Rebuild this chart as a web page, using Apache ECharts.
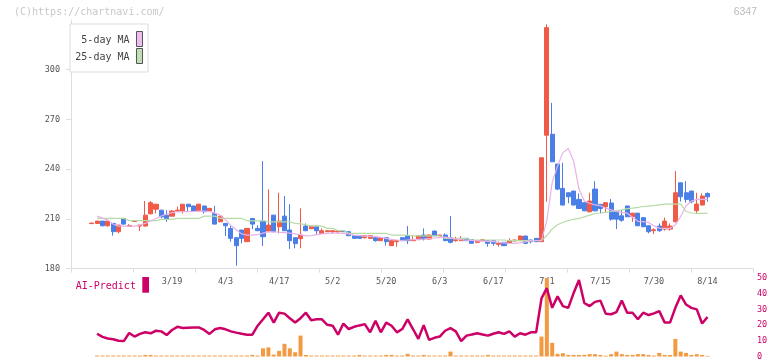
<!DOCTYPE html>
<html><head><meta charset="utf-8">
<script src="https://cdn.jsdelivr.net/npm/echarts@6/dist/echarts.min.js"></script>
<style>html,body{margin:0;padding:0;background:#fff}#c{width:772px;height:361px}</style>
</head><body><div id="c"></div>
<script>
const DATES = ['2/26','2/27','2/28',
'3/3','3/4','3/5','3/6','3/7','3/10','3/11','3/12','3/13','3/14','3/17','3/18','3/19','3/21','3/24','3/25','3/26','3/27','3/28','3/31',
'4/1','4/2','4/3','4/4','4/7','4/8','4/9','4/10','4/11','4/14','4/15','4/16','4/17','4/18','4/21','4/22','4/23','4/24','4/25','4/28','4/30',
'5/1','5/2','5/7','5/8','5/9','5/12','5/13','5/14','5/15','5/16','5/19','5/20','5/21','5/22','5/23','5/26','5/27','5/28','5/29','5/30',
'6/2','6/3','6/4','6/5','6/6','6/9','6/10','6/11','6/12','6/13','6/16','6/17','6/18','6/19','6/20','6/23','6/24','6/25','6/26','6/27','6/30',
'7/1','7/2','7/3','7/4','7/7','7/8','7/9','7/10','7/11','7/14','7/15','7/16','7/17','7/18','7/22','7/23','7/24','7/25','7/28','7/29','7/30','7/31',
'8/1','8/4','8/5','8/6','8/7','8/8','8/12','8/13','8/14'];

const LABEL_DATES = ['3/19','4/3','4/17','5/2','5/20','6/3','6/17','7/1','7/15','7/30','8/14'];
const PRICE_TICKS = [180, 210, 240, 270, 300];
const AI_TICKS = [0, 10, 20, 30, 40, 50];

const OPEN = [
207.2,207.3,208.7,205.9,207.3,202.3,210.3,205.6,208.5,205.7,
205.7,213.1,215.9,215.3,212.3,211.7,214.8,214.8,218.9,217.8,
214.8,217.8,214.8,213.3,208.3,207.3,204.3,198.7,203.3,196.3,
210.3,204.3,208.7,202.7,212.3,205.3,211.7,203.3,198.7,198.1,
205.7,204.1,205.7,201.3,202.3,202.3,202.3,202.7,202.3,199.9,
199.9,198.7,198.3,198.7,196.9,198.7,193.9,196.3,198.7,199.9,
196.9,197.5,200.3,197.9,202.7,199.9,200.3,198.7,196.9,196.9,
198.3,197.5,195.9,196.9,196.9,196.9,194.7,195.9,195.3,196.7,
196.9,199.7,197.3,198.3,196.3,260.5,261.1,243.1,228.4,225.8,
226.8,221.8,219.8,214.3,228.0,218.8,217.3,219.6,214.7,211.9,
217.8,211.3,213.5,210.8,205.9,202.9,205.7,203.9,203.9,208.3,
231.8,225.8,226.8,215.0,218.4,225.4];
const CLOSE = [
207.5,208.7,205.9,208.7,202.3,206.3,206.9,206.0,208.9,206.3,
212.3,219.8,218.9,211.3,209.9,214.8,215.3,218.9,217.4,214.8,
218.9,214.4,216.4,206.9,211.7,205.9,198.3,193.9,198.3,204.3,
206.9,202.9,199.3,206.3,202.3,208.7,202.9,196.9,195.1,200.3,
202.9,205.7,202.9,202.9,202.9,202.9,202.7,202.3,199.9,198.3,
198.3,199.9,199.9,196.9,198.7,196.3,196.9,196.9,196.9,196.9,
197.5,199.9,197.9,200.3,199.9,200.3,196.9,195.9,197.5,197.5,
196.9,195.3,196.9,197.5,195.3,195.3,195.3,193.9,196.9,197.3,
199.7,195.3,196.3,196.3,246.9,325.4,244.5,228.0,218.4,223.4,
218.4,216.3,214.9,220.8,214.9,216.3,219.8,209.9,209.9,209.2,
211.3,213.5,205.9,205.3,202.3,203.5,202.9,208.7,205.7,225.8,
223.4,221.8,220.4,219.0,223.8,223.4];
const LOW = [
207.0,207.2,205.5,205.3,199.9,201.3,206.5,205.3,208.3,202.7,
205.5,212.8,213.3,210.3,208.3,211.5,214.5,213.3,214.4,214.5,
214.6,213.3,214.5,206.7,208.0,199.7,196.3,181.8,195.3,196.2,
203.9,202.7,193.7,202.5,202.0,201.3,202.7,191.9,192.3,192.3,
202.7,203.9,200.7,201.2,202.1,201.3,201.3,202.1,199.7,198.1,
198.1,198.1,198.1,196.3,196.7,193.9,193.7,193.3,196.7,194.9,
196.7,197.3,197.0,197.7,199.7,199.7,196.7,195.3,196.3,196.7,
196.7,195.1,195.3,196.7,193.3,193.9,193.3,193.7,195.1,196.5,
196.7,195.1,195.3,196.1,196.1,220.4,244.3,227.4,218.2,219.4,
218.2,216.1,214.7,214.1,214.7,213.3,214.3,209.0,203.9,208.3,
211.1,208.3,205.7,205.1,201.3,200.9,202.3,202.9,203.0,208.0,
220.4,219.8,219.4,213.0,218.2,220.4];
const HIGH = [
207.7,208.8,208.8,208.8,207.4,206.4,210.5,206.9,209.0,206.5,
220.8,220.8,219.0,215.5,215.3,215.3,217.4,219.0,219.0,218.0,
219.0,218.0,216.6,217.8,211.9,207.4,205.7,198.9,203.5,204.5,
210.5,206.3,244.9,227.8,212.5,225.8,223.8,218.9,198.9,216.4,
207.3,205.9,205.8,204.3,203.1,203.0,202.9,202.9,202.5,200.1,
200.1,200.1,200.1,199.3,198.9,198.9,197.1,197.1,198.9,205.7,
200.3,200.1,204.3,200.5,202.9,200.5,201.3,211.8,199.3,199.7,
198.5,197.7,197.1,197.7,197.1,197.1,196.3,196.1,198.3,197.5,
199.9,199.9,197.5,198.5,247.0,327.4,280.0,243.3,243.9,226.0,
227.0,225.4,220.0,225.8,232.8,219.0,220.0,222.0,214.9,215.4,
218.0,213.7,213.7,211.0,206.1,204.3,207.3,210.8,207.3,238.9,
232.0,232.8,227.0,225.8,225.4,226.0];

const MA5 = [
null,211.7,210.5,209.3,207.0,205.7,205.7,205.7,205.7,206.3,
207.3,208.8,210.3,211.8,213.0,213.8,214.3,214.4,214.4,214.5,
214.8,214.7,214.5,213.5,212.3,209.5,206.0,203.5,201.0,200.3,
200.3,200.5,201.5,202.2,202.3,202.0,201.7,201.4,201.0,200.5,
199.8,200.0,200.5,201.0,201.3,201.5,201.5,201.3,201.0,200.3,
199.9,199.7,199.5,199.3,198.9,198.3,197.7,197.3,197.0,197.3,
197.5,197.7,197.9,198.2,198.5,198.8,199.0,198.6,198.0,197.5,
197.2,197.0,196.8,196.6,196.5,196.3,195.9,195.6,195.3,195.3,
195.6,196.2,196.8,197.0,197.1,209.0,232.0,242.0,250.0,252.5,
245.0,228.0,220.8,219.5,218.5,218.0,216.5,215.5,214.6,214.0,
213.5,211.0,208.6,208.4,207.8,205.8,204.5,204.3,204.3,206.5,
211.5,218.0,220.8,221.8,221.8,221.8];
const MA25 = [
null,210.3,210.3,210.3,210.3,210.3,210.3,209.0,209.0,209.0,
209.0,209.0,209.0,209.7,209.7,209.7,210.3,210.3,210.3,210.3,
210.3,211.7,211.7,211.7,210.3,210.3,210.3,210.3,210.3,208.9,
208.9,208.9,208.9,208.3,208.3,208.3,208.3,208.3,207.3,207.0,
206.5,205.7,205.7,205.7,204.3,204.3,203.0,203.0,201.3,201.3,
201.3,201.3,201.3,201.3,201.3,201.3,200.3,200.3,200.3,200.3,
199.8,199.8,199.8,199.8,199.8,199.8,198.3,198.3,198.3,198.3,
198.3,197.3,197.3,197.3,197.3,197.3,197.3,197.3,196.9,196.9,
196.9,196.9,196.9,196.9,196.9,200.0,204.0,206.5,208.0,209.0,
209.8,210.3,211.3,212.3,213.3,213.6,214.0,214.5,215.0,215.5,
216.2,216.5,217.0,217.5,217.8,218.0,218.5,219.0,219.0,219.0,
219.0,214.5,213.6,213.4,213.4,213.4];

const AI_PREDICT = [
null,14.5,12.5,11.5,11.0,10.0,9.8,15.0,12.7,14.4,
15.4,14.8,16.4,16.0,13.7,16.9,18.9,18.1,18.3,18.5,
18.5,16.9,14.4,17.3,18.1,17.3,16.0,15.2,14.5,13.9,
13.9,19.6,23.7,27.9,21.6,27.9,27.3,24.4,21.6,24.4,
27.9,23.1,23.7,23.7,20.2,19.6,13.9,21.0,17.5,18.9,
19.8,20.6,15.4,22.7,15.4,21.6,19.6,15.4,17.5,23.7,
17.5,11.2,20.0,10.6,11.9,12.7,16.4,18.1,16.0,9.8,
13.3,14.0,14.8,14.0,13.3,14.5,15.4,14.4,16.0,12.7,
14.8,13.9,15.4,15.4,37.0,43.5,31.0,38.3,32.1,31.0,
40.4,48.7,34.1,32.1,34.8,35.6,27.3,26.9,28.3,35.6,
27.9,27.9,23.7,27.9,26.4,27.5,28.9,21.6,21.6,31.0,
38.9,33.1,31.0,30.0,21.0,25.2];
const VOLUME = [
null,0.6,0.6,0.6,0.6,0.6,0.6,0.6,0.6,0.6,
1.0,1.0,0.6,0.6,0.6,0.6,0.6,0.6,0.6,0.6,
0.6,0.6,0.6,0.6,0.6,0.6,0.6,0.6,0.6,0.6,
1.0,0.6,5.2,5.8,1.2,3.6,8.1,5.2,2.7,13.3,
1.0,0.6,0.6,0.6,0.6,0.6,0.6,0.6,0.6,0.6,
1.0,0.6,0.6,0.6,0.6,1.0,1.0,0.6,0.6,1.7,
0.6,0.6,1.0,0.6,0.6,0.6,0.6,3.1,0.6,0.6,
0.6,0.6,0.6,0.6,1.0,0.6,0.6,0.6,0.6,0.6,
0.6,0.6,0.6,0.6,12.7,50,8.7,1.7,2.1,1.0,
1.0,1.0,1.0,1.5,1.5,1.0,0.5,1.5,3.1,1.5,
1.0,1.0,1.5,1.5,1.0,0.6,2.3,1.0,1.0,11.2,
3.1,2.3,1.0,1.5,1.0,0.4];

const MONO = '"DejaVu Sans Mono", monospace';
const UP = '#f05a46', DOWN = '#4a7fe8';
const XMIN = -3.865, XMAX = 123.5;

const candle = DATES.map((d, i) => [i, OPEN[i], CLOSE[i], LOW[i], HIGH[i]]);
const pair = arr => arr.map((v, i) => [i, v]);
const labelIdx = LABEL_DATES.map(d => DATES.indexOf(d));

const chart = echarts.init(document.getElementById('c'));
chart.setOption({
  animation: false,
  backgroundColor: '#fff',
  grid: [
    {left: 71, right: 19, top: 20, bottom: 92.3},
    {left: 71, right: 19, top: 278, bottom: 3}
  ],
  xAxis: [
    {gridIndex: 0, type: 'value', min: XMIN, max: XMAX, position: 'bottom',
     axisLine: {show: false, onZero: false}, axisTick: {show: false}, splitLine: {show: false},
     axisLabel: {show: true, customValues: labelIdx, formatter: v => DATES[Math.round(v)] || '',
                 margin: 9, color: '#555', fontFamily: MONO, fontSize: 8.5}},
    {gridIndex: 0, type: 'value', min: 0, max: 11, interval: 1, position: 'bottom',
     axisLine: {show: true, onZero: false, lineStyle: {color: '#dddddd'}},
     axisTick: {show: true, length: 4, lineStyle: {color: '#dddddd'}},
     axisLabel: {show: false}, splitLine: {show: false}},
    {gridIndex: 1, type: 'value', min: XMIN, max: XMAX, show: false, axisLine: {onZero: false}}
  ],
  yAxis: [
    {gridIndex: 0, type: 'value', min: 180, max: 330,
     axisLine: {show: true, onZero: false, lineStyle: {color: '#dddddd'}},
     axisTick: {show: true, length: 5, customValues: PRICE_TICKS, lineStyle: {color: '#dddddd'}},
     splitLine: {show: false},
     axisLabel: {customValues: PRICE_TICKS, color: '#555', fontFamily: MONO, fontSize: 8.5, margin: 11}},
    {gridIndex: 1, type: 'value', min: 0, max: 50, position: 'right',
     axisLine: {show: false, onZero: false}, axisTick: {show: false}, splitLine: {show: false},
     axisLabel: {customValues: AI_TICKS, color: '#cc0066', fontFamily: MONO, fontSize: 8.5, margin: 4}}
  ],
  series: [
    {type: 'candlestick', xAxisIndex: 0, yAxisIndex: 0, data: candle,
     encode: {x: 0, y: [1, 2, 3, 4]}, barWidth: 4.6,
     itemStyle: {color: UP, color0: DOWN, borderColor: UP, borderColor0: DOWN, borderWidth: 1}},
    {type: 'line', xAxisIndex: 0, yAxisIndex: 0, data: pair(MA25), symbol: 'none',
     lineStyle: {color: '#b6dca6', width: 1.2}},
    {type: 'line', xAxisIndex: 0, yAxisIndex: 0, data: pair(MA5), symbol: 'none',
     lineStyle: {color: '#e8b2e8', width: 1.2}},
    {type: 'bar', xAxisIndex: 2, yAxisIndex: 1, data: pair(VOLUME), barWidth: 4,
     itemStyle: {color: '#f29a42'}},
    {type: 'line', xAxisIndex: 2, yAxisIndex: 1, data: pair(AI_PREDICT), symbol: 'none',
     lineStyle: {color: '#cc0066', width: 2.5}}
  ],
  graphic: [
    {type: 'text', x: 14, y: 12.5, z: 100, style: {text: '(C)https://chartnavi.com/', font: '10px ' + MONO, fill: '#c8c8c8', verticalAlign: 'middle'}},
    {type: 'text', x: 757, y: 12.5, z: 100, style: {text: '6347', font: '10.5px "Liberation Sans", sans-serif', fill: '#bbbbbb', align: 'right', verticalAlign: 'middle'}},
    {type: 'rect', z: 100, shape: {x: 70, y: 24, width: 78, height: 48}, style: {fill: '#fff', stroke: '#dddddd', lineWidth: 1}},
    {type: 'text', x: 129.5, y: 40.7, z: 101, style: {text: '5-day MA', font: '10px ' + MONO, fill: '#444', align: 'right', verticalAlign: 'middle'}},
    {type: 'text', x: 129.5, y: 57.3, z: 101, style: {text: '25-day MA', font: '10px ' + MONO, fill: '#444', align: 'right', verticalAlign: 'middle'}},
    {type: 'rect', z: 101, shape: {x: 136.5, y: 31.5, width: 6, height: 15}, style: {fill: '#eebcee', stroke: '#555', lineWidth: 1}},
    {type: 'rect', z: 101, shape: {x: 136.5, y: 48.5, width: 6, height: 15}, style: {fill: '#bfe0b0', stroke: '#555', lineWidth: 1}},
    {type: 'text', x: 75.7, y: 286, z: 100, style: {text: 'AI-Predict', font: '10px ' + MONO, fill: '#cc0066', verticalAlign: 'middle'}},
    {type: 'rect', z: 100, shape: {x: 142.3, y: 277, width: 6.7, height: 15.7}, style: {fill: '#cc0066'}}
  ]
});
</script></body></html>
